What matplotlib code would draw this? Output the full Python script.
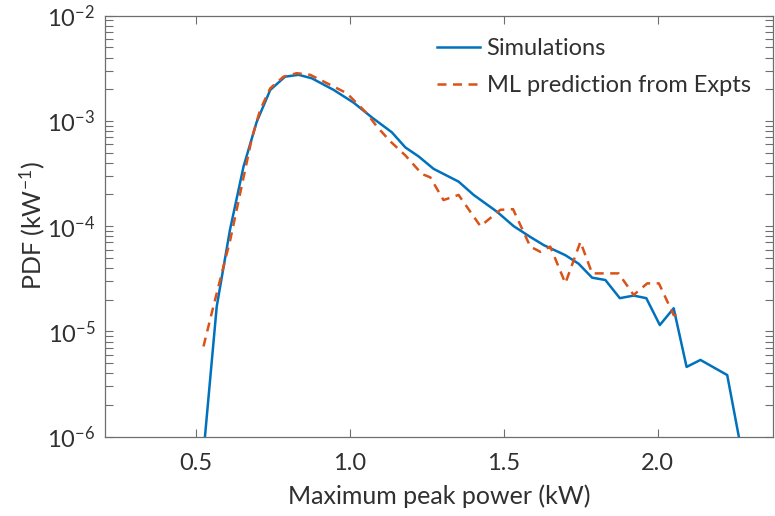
import matplotlib
matplotlib.use("Agg")
import matplotlib.pyplot as plt
from matplotlib.ticker import FixedLocator, LogLocator, NullFormatter

plt.rcParams['font.family'] = ['Lato', 'DejaVu Sans']
plt.rcParams['mathtext.default'] = 'regular'

# Simulations (blue)
sim_x = [0.524, 0.567, 0.610, 0.654, 0.697, 0.741, 0.789, 0.833, 0.876, 0.947,
         1.012, 1.071, 1.136, 1.180, 1.223, 1.272, 1.353, 1.402, 1.478, 1.532,
         1.586, 1.630, 1.700, 1.743, 1.787, 1.830, 1.877, 1.922, 1.963, 2.007,
         2.052, 2.094, 2.139, 2.226, 2.270]
sim_y = [7e-7, 1.72e-5, 9.2e-5, 3.67e-4, 9.8e-4, 1.97e-3, 2.63e-3, 2.74e-3, 2.54e-3, 1.97e-3,
         1.49e-3, 1.08e-3, 7.8e-4, 5.6e-4, 4.6e-4, 3.5e-4, 2.65e-4, 1.98e-4, 1.37e-4, 1.0e-4,
         7.9e-5, 6.6e-5, 5.3e-5, 4.4e-5, 3.24e-5, 3.08e-5, 2.07e-5, 2.19e-5, 2.07e-5, 1.15e-5,
         1.66e-5, 4.6e-6, 5.36e-6, 3.85e-6, 8e-7]

# ML prediction from experiments (orange dashed)
ml_x = [0.524, 0.556, 0.611, 0.681, 0.708, 0.741, 0.784, 0.827, 0.871, 0.936,
        0.990, 1.055, 1.088, 1.131, 1.180, 1.234, 1.261, 1.304, 1.353, 1.424,
        1.489, 1.530, 1.586, 1.619, 1.651, 1.700, 1.749, 1.787, 1.873, 1.922,
        1.966, 2.004, 2.052, 2.079]
ml_y = [7.2e-6, 1.72e-5, 7.4e-5, 6.8e-4, 1.27e-3, 2.04e-3, 2.63e-3, 2.84e-3, 2.74e-3, 2.2e-3,
        1.83e-3, 1.18e-3, 8.8e-4, 6.4e-4, 4.7e-4, 3.13e-4, 2.91e-4, 1.77e-4, 1.98e-4, 1.0e-4,
        1.43e-4, 1.45e-4, 6.4e-5, 5.7e-5, 6.4e-5, 2.87e-5, 7.1e-5, 3.56e-5, 3.56e-5, 2.22e-5,
        2.86e-5, 2.86e-5, 1.43e-5, 1.4e-5]

x_ticks = [0.5, 1.0, 1.5, 2.0]
x_tick_labels = ['0.5', '1.0', '1.5', '2.0']
y_ticks = [1e-6, 1e-5, 1e-4, 1e-3, 1e-2]
y_tick_labels = ['$10^{-6}$', '$10^{-5}$', '$10^{-4}$', '$10^{-3}$', '$10^{-2}$']

spine_c = '#6e6e6e'
text_c = '#303030'

fig = plt.figure(figsize=(7.75, 5.16), dpi=100)
ax = fig.add_axes([0.1355, 0.1537, 0.862, 0.816])

ax.plot(sim_x, sim_y, color='#0072BD', lw=1.8, label='Simulations')
ax.plot(ml_x, ml_y, color='#D95319', lw=1.8, linestyle=(0, (3.6, 2.6)),
        label='ML prediction from Expts')

ax.set_yscale('log')
ax.set_xlim(0.204, 2.375)
ax.set_ylim(1e-6, 1e-2)

ax.xaxis.set_major_locator(FixedLocator(x_ticks))
ax.set_xticklabels(x_tick_labels)
ax.yaxis.set_major_locator(FixedLocator(y_ticks))
ax.set_yticklabels(y_tick_labels)
ax.yaxis.set_minor_locator(LogLocator(base=10, subs=range(2, 10), numticks=20))
ax.yaxis.set_minor_formatter(NullFormatter())

for s in ax.spines.values():
    s.set_color(spine_c)
    s.set_linewidth(0.9)

ax.tick_params(which='both', direction='in', top=True, right=True,
               color=spine_c, width=0.8, labelsize=17, labelcolor=text_c)
ax.tick_params(axis='x', pad=12)
ax.tick_params(axis='y', pad=7)
ax.tick_params(which='major', length=6)
ax.tick_params(which='minor', length=6)

ax.set_xlabel('Maximum peak power (kW)', fontsize=18, color=text_c, labelpad=7)
ax.set_ylabel('PDF (kW$^{-1}$)', fontsize=18, color=text_c)
ax.yaxis.set_label_coords(-0.087, 0.5)

leg = ax.legend(loc='upper left', bbox_to_anchor=(0.497, 0.946), frameon=False,
                fontsize=17, handlelength=1.8, handletextpad=0.3,
                labelspacing=0.66, borderpad=0, borderaxespad=0)
for t in leg.get_texts():
    t.set_color(text_c)

fig.savefig('out.png', dpi=100)
